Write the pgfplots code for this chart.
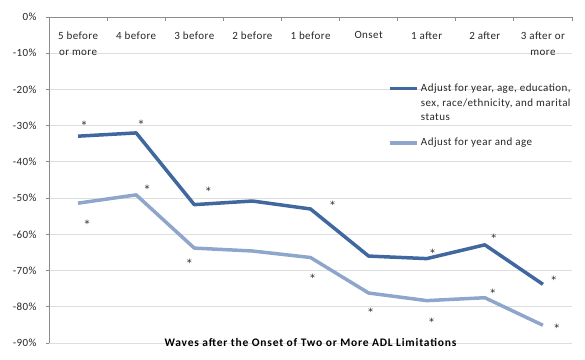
\documentclass[border=0pt]{standalone}
\usepackage{pgfplots}
\pgfplotsset{compat=1.18}
\usepackage{fontspec}
\setmainfont{Carlito}[LetterSpace=4]
\newfontfamily\astfont{DejaVu Sans}
\definecolor{darkser}{RGB}{64,104,158}
\definecolor{lightser}{RGB}{143,166,204}
\definecolor{gridc}{RGB}{222,222,222}
\definecolor{axc}{RGB}{140,140,140}
\pgfplotsset{
  firstleg/.style={legend image code/.code={\draw[##1] (0pt,14.5pt) -- (27pt,14.5pt);}},
}
\begin{document}
\begin{tikzpicture}
\useasboundingbox (-49pt,-16pt) rectangle (536pt,343pt);
\begin{axis}[
 scale only axis, width=523pt, height=326pt,
 xmin=-0.5, xmax=8.5, ymin=-90, ymax=0,
 axis x line*=top, axis y line*=left,
 axis line style={axc, line width=0.8pt},
 xtick={0,...,8},
 xticklabels={5 before\\or more, 4 before, 3 before, 2 before, 1 before, Onset, 1 after, 2 after, 3 after or\\more},
 major x tick style={draw=none},
 minor xtick={-0.5,0.5,...,8.5},
 minor x tick style={axc, line width=0.8pt},
 minor tick length=4pt,
 xtick align=inside,
 xticklabel style={anchor=north, yshift=-11pt, align=center, text=black!85, font=\fontsize{11}{16}\selectfont},
 ytick={-90,-80,...,0},
 yticklabels={-90\%,-80\%,-70\%,-60\%,-50\%,-40\%,-30\%,-20\%,-10\%,0\%},
 ytick align=outside,
 major tick length=3pt,
 ytick style={axc, line width=0.8pt},
 yticklabel style={font=\fontsize{11}{12}\selectfont, text=black!85, xshift=-6pt},
 ymajorgrids, grid style={gridc, line width=0.8pt},
 xlabel={Waves after the Onset of Two or More ADL Limitations},
 xlabel style={at={(axis description cs:0.5,0)}, anchor=center, yshift=1pt, font=\bfseries\fontsize{11.5}{12}\selectfont\addfontfeature{LetterSpace=7}, text=black},
 legend style={at={(0.643,0.807)}, anchor=north west, draw=none, fill=none, font=\fontsize{11}{14.5}\selectfont, text=black!85, cells={anchor=west, align=left}, row sep=12pt},
 legend image code/.code={\draw[#1] (0pt,0pt) -- (27pt,0pt);},
 every node near coord/.append style={font=\astfont\fontsize{10}{12}\selectfont, text=black!85},
]
\addplot[darkser, line width=3.5pt, line join=round, firstleg] coordinates {(0,-32.9) (1,-32.0) (2,-51.8) (3,-50.8) (4,-53.0) (5,-66.0) (6,-66.7) (7,-62.9) (8,-73.8)};
\addlegendentry{Adjust for year, age, education,\\sex, race/ethnicity, and marital\\status}
\addplot[lightser, line width=3.5pt, line join=round] coordinates {(0,-51.4) (1,-49.1) (2,-63.8) (3,-64.6) (4,-66.4) (5,-76.2) (6,-78.3) (7,-77.5) (8,-85.1)};
\addlegendentry{Adjust for year and age}
\addplot[draw=none, forget plot, nodes near coords={*},
  visualization depends on={\thisrow{dx}\as\dx},
  visualization depends on={\thisrow{dy}\as\dy},
  nodes near coords style={anchor=center, xshift=\dx pt, yshift=\dy pt}] table {
x y dx dy
0 -32.9 6 11
1 -32.0 5 9
2 -51.8 14 14
4 -53.0 22 4
6 -66.7 6 6
7 -62.9 9 7
8 -73.8 11 5
};
\addplot[draw=none, forget plot, nodes near coords={*},
  visualization depends on={\thisrow{dx}\as\dx},
  visualization depends on={\thisrow{dy}\as\dy},
  nodes near coords style={anchor=center, xshift=\dx pt, yshift=\dy pt}] table {
x y dx dy
0 -51.4 9 -21
1 -49.1 11 6
2 -63.8 -5 -15
4 -66.4 2 -20
5 -76.2 2 -19
6 -78.3 5 -21
7 -77.5 8 5
8 -85.1 14 -3
};
\end{axis}
\end{tikzpicture}
\end{document}
